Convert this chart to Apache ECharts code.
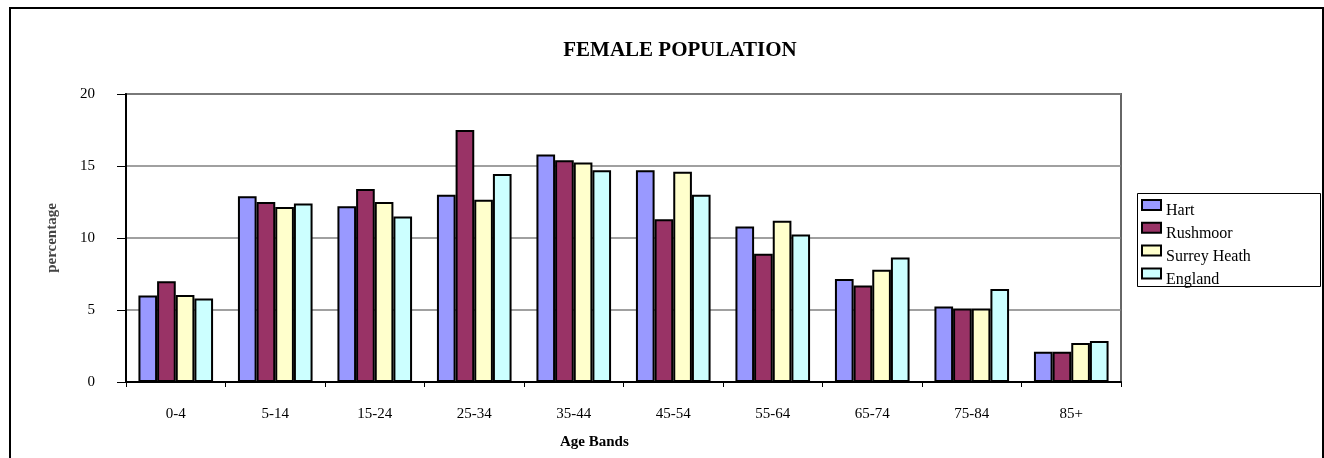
<!DOCTYPE html>
<html>
<head>
<meta charset="utf-8">
<script src="https://cdn.jsdelivr.net/npm/echarts@6/dist/echarts.min.js"></script>
<style>
html,body{margin:0;padding:0;background:#fff;}
#chart{width:1324px;height:458px;}
</style>
</head>
<body>
<div id="chart"></div>
<script>
const categories = ['0-4','5-14','15-24','25-34','35-44','45-54','55-64','65-74','75-84','85+'];
const hart = [6.0, 12.9, 12.2, 13.0, 15.8, 14.7, 10.8, 7.15, 5.25, 2.1];
const rushmoor = [7.0, 12.5, 13.4, 17.5, 15.4, 11.3, 8.9, 6.7, 5.1, 2.1];
const surreyHeath = [6.05, 12.15, 12.5, 12.65, 15.25, 14.6, 11.2, 7.8, 5.1, 2.7];
const england = [5.8, 12.4, 11.5, 14.45, 14.7, 13.0, 10.25, 8.65, 6.45, 2.85];
const seriesNames = ['Hart','Rushmoor','Surrey Heath','England'];
const seriesColors = ['#9999FF','#993366','#FFFFCC','#CCFFFF'];
const yTicks = [0,5,10,15,20];

const FONT = '"Liberation Serif", "Times New Roman", serif';
const chart = echarts.init(document.getElementById('chart'));
const dataSets = [hart, rushmoor, surreyHeath, england];

chart.setOption({
  animation: false,
  backgroundColor: '#fff',
  textStyle: { fontFamily: FONT },
  title: {
    text: 'FEMALE POPULATION',
    left: 675, top: 35,
    textAlign: 'center',
    textStyle: { fontFamily: FONT, fontWeight: 'bold', fontSize: 21, color: '#000' }
  },
  grid: {
    left: 126, right: 203, top: 94, bottom: 76,
    show: true, borderColor: '#666', borderWidth: 2
  },
  legend: {
    orient: 'vertical',
    left: 1141, top: 191,
    data: seriesNames,
    itemWidth: 19, itemHeight: 10,
    itemGap: -5.2,
    padding: 0,
    icon: 'rect',
    itemStyle: { borderColor: '#000', borderWidth: 2 },
    formatter: '{t|{name}}',
    textStyle: {
      fontFamily: FONT, fontSize: 16, color: '#000',
      rich: { t: { fontFamily: FONT, fontSize: 16, color: '#000', lineHeight: 14, padding: [12, 0, 0, 0] } }
    }
  },
  xAxis: {
    type: 'category',
    data: categories,
    axisLine: { lineStyle: { color: '#000', width: 2 } },
    axisTick: { show: true, length: 5, lineStyle: { color: '#000' } },
    axisLabel: { fontFamily: FONT, fontSize: 15, color: '#000', margin: 25 }
  },
  yAxis: {
    type: 'value',
    min: yTicks[0], max: yTicks[yTicks.length-1], interval: 5,
    axisLine: { show: true, lineStyle: { color: '#000', width: 2 } },
    axisTick: { show: true, length: 9, inside: false, lineStyle: { color: '#000' } },
    axisLabel: { fontFamily: FONT, fontSize: 15, color: '#000', margin: 31 },
    splitLine: { show: true, lineStyle: { color: '#808080', width: 1.5 } },
    name: 'percentage',
    nameLocation: 'middle',
    nameRotate: 90,
    nameGap: 66,
    nameTextStyle: { fontFamily: FONT, fontWeight: 'bold', fontSize: 15, color: '#444' }
  },
  graphic: [
    { type: 'rect', shape: { x: 10, y: 8, width: 1313, height: 470 },
      style: { fill: 'none', stroke: '#000', lineWidth: 2 }, silent: true },
    { type: 'rect', shape: { x: 1137.5, y: 193.5, width: 183, height: 93 },
      style: { fill: 'none', stroke: '#000', lineWidth: 1 }, silent: true },
    { type: 'text', left: 560, top: 435,
      style: { text: 'Age Bands', font: 'bold 15px ' + FONT, fill: '#000' } }
  ],
  series: seriesNames.map((n, i) => ({
    name: n,
    type: 'bar',
    data: dataSets[i],
    barGap: '0%',
    barCategoryGap: '25%',
    itemStyle: { color: seriesColors[i], borderColor: '#000', borderWidth: 2 }
  }))
});
</script>
</body>
</html>
